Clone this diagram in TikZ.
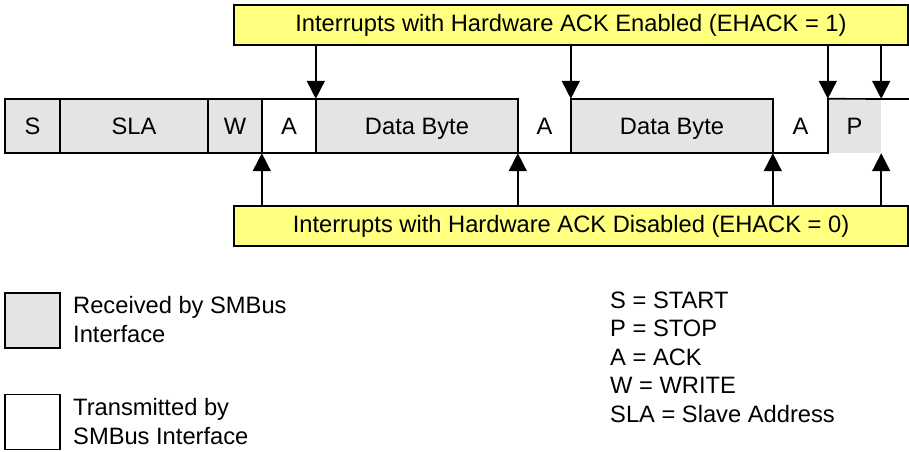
\documentclass[tikz,border=0pt]{standalone}
\usepackage{fontspec}
\setmainfont{Liberation Sans}
\usetikzlibrary{arrows.meta}
\definecolor{rxgray}{RGB}{228,228,228}
\definecolor{noteyellow}{RGB}{255,255,128}
\tikzset{
  txt/.style={font=\fontsize{23.7}{29}\selectfont},
  cell/.style={draw=none, minimum height=54pt, inner sep=0pt, txt, text height=17pt, text depth=0pt},
  rx/.style={fill=rxgray},
  frame/.style={line width=1.7pt, line cap=rect},
  note/.style={draw, line width=1.7pt, fill=noteyellow, minimum width=674pt, minimum height=40pt, inner sep=0pt, txt},
  arr/.style={line width=1.7pt, -{Triangle[length=18pt,width=18pt]}},
  legbox/.style={draw, line width=1.7pt, minimum width=55pt, minimum height=55pt, inner sep=0pt},
  legtxt/.style={txt, align=left, anchor=west, inner sep=0pt}
}
\begin{document}
\begin{tikzpicture}[x=1pt,y=-1pt]
\useasboundingbox (0,0) rectangle (909,451);
% cells
\node[cell, rx, minimum width=55pt]  (cS)   at (32.5,126) {S};
\node[cell, rx, minimum width=148pt] (cSLA) at (134,126) {SLA};
\node[cell, rx, minimum width=54pt]  (cW)   at (235,126) {W};
\node[cell,     minimum width=54pt]  (cA1)  at (289,126) {A};
\node[cell, rx, minimum width=202pt] (cD1)  at (417,126) {Data Byte};
\node[cell,     minimum width=53pt]  (cA2)  at (544.5,126) {A};
\node[cell, rx, minimum width=202pt] (cD2)  at (672,126) {Data Byte};
\node[cell,     minimum width=55pt]  (cA3)  at (800.5,126) {A};
\node[cell, rx, minimum width=53pt]  (cP)   at (854.5,126) {P};
\coordinate (topend) at (909,99);
% frame lines
\draw[frame] (cS.north west) -- (cD1.north east);
\draw[frame] (cD2.north west) -- (cD2.north east);
\draw[frame] (cP.north west) -- (topend);
\draw[frame] (cS.south west) -- (cA3.south east);
\foreach \c in {cS,cSLA,cW,cA1,cD1,cA2,cD2,cA3}
  \draw[frame] (\c.north west) -- (\c.south west);
\draw[frame] (cA3.north east) -- (cA3.south east);
% notes
\node[note] (en)  at (571,25)  {Interrupts with Hardware ACK Enabled (EHACK = 1)};
\node[note] (dis) at (571,226) {Interrupts with Hardware ACK Disabled (EHACK = 0)};
% arrows down
\draw[arr] (en.south -| cD1.west) -- (cD1.north west);
\draw[arr] (en.south -| cD2.west) -- (cD2.north west);
\draw[arr] (en.south -| cP.west) -- (cP.north west);
\draw[arr] (en.south -| cP.east) -- (cP.north east);
% arrows up
\draw[arr] (dis.north -| cA1.west) -- (cA1.south west);
\draw[arr] (dis.north -| cA2.west) -- (cA2.south west);
\draw[arr] (dis.north -| cA3.west) -- (cA3.south west);
\draw[arr] (dis.north -| cP.east) -- (cP.south east);
% legend
\node[legbox, fill=rxgray] (lr) at (32.5,320.5) {};
\node[legbox] (lt) at (32.5,422) {};
\node[legtxt] (lrt) at (73,320) {Received by SMBus\\Interface};
\node[legtxt] (ltt) at (73,421.5) {Transmitted by\\SMBus Interface};
\node[legtxt, font=\fontsize{23.7}{28.5}\selectfont] (abbr) at (610,357) {S = START\\P = STOP\\A = ACK\\W = WRITE\\SLA = Slave Address};
\end{tikzpicture}
\end{document}
